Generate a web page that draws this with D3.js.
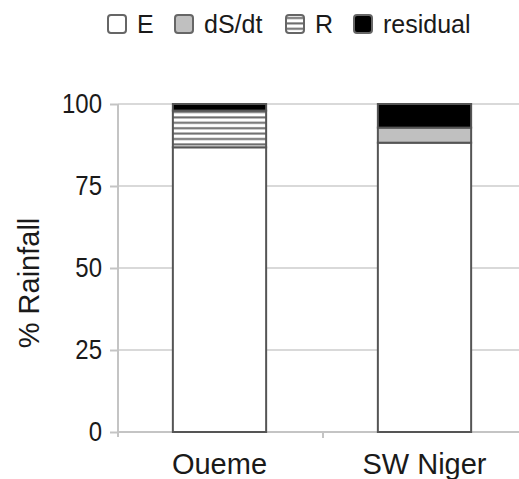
<!DOCTYPE html>
<html>
<head>
<meta charset="utf-8">
<script src="https://cdn.jsdelivr.net/npm/d3@7"></script>
<style>
  body { margin: 0; background: #fff; }
  svg { font-family: "Liberation Sans", Arial, sans-serif; }
</style>
</head>
<body>
<svg id="chart"></svg>
<script>
const sites = ["Oueme", "SW Niger"];
const E = [86.8, 88.2];
const dSdt = [0, 4.6];
const R = [11.2, 0];
const residual = [2.0, 7.2];
const yTicks = [0, 25, 50, 75, 100];

const width = 519;
const height = 479;
const margin = { top: 104, right: -9, bottom: 47, left: 118 };

const svg = d3.select("#chart")
  .attr("width", width)
  .attr("height", height);

// hatch pattern for R
const defs = svg.append("defs");
const hatch = defs.append("pattern")
  .attr("id", "hatch")
  .attr("patternUnits", "userSpaceOnUse")
  .attr("width", 8)
  .attr("height", 5.4);
hatch.append("rect").attr("width", 8).attr("height", 5.4).attr("fill", "#fff");
hatch.append("rect").attr("y", 3).attr("width", 8).attr("height", 2).attr("fill", "#6a6a6a");

const x = d3.scaleBand()
  .domain(sites)
  .range([margin.left, width - margin.right]);

const y = d3.scaleLinear()
  .domain([0, 100])
  .range([height - margin.bottom, margin.top]);

// gridlines
svg.append("g")
  .selectAll("line")
  .data(yTicks.filter(d => d > 0))
  .join("line")
  .attr("x1", margin.left)
  .attr("x2", width)
  .attr("y1", d => y(d))
  .attr("y2", d => y(d))
  .attr("stroke", "#d9d9d9")
  .attr("stroke-width", 2);

// y axis
const yAxis = svg.append("g")
  .attr("transform", `translate(${margin.left},0)`)
  .call(d3.axisLeft(y).tickValues(yTicks).tickSize(8).tickPadding(8));
yAxis.select(".domain").remove();
yAxis.append("line")
  .attr("y1", y(100)).attr("y2", y(0) + 5)
  .attr("stroke", "#c4c4c4").attr("stroke-width", 2);
yAxis.selectAll(".tick line").attr("stroke", "#c4c4c4").attr("stroke-width", 2);
yAxis.selectAll(".tick text")
  .attr("fill", "#1a1a1a")
  .attr("transform", "scale(1,1.15)")
  .style("font-size", "24px");

// x axis
const xAxis = svg.append("g")
  .attr("transform", `translate(0,${y(0)})`);
xAxis.append("line")
  .attr("x1", margin.left).attr("x2", width)
  .attr("stroke", "#c4c4c4").attr("stroke-width", 2);
xAxis.selectAll(".sep")
  .data(sites.slice(1))
  .join("line")
  .attr("x1", d => x(d)).attr("x2", d => x(d))
  .attr("y1", 0).attr("y2", 6)
  .attr("stroke", "#c4c4c4").attr("stroke-width", 2);
xAxis.selectAll(".cat")
  .data(sites)
  .join("text")
  .attr("x", d => x(d) + x.bandwidth() / 2 - 1)
  .attr("y", 42)
  .attr("text-anchor", "middle")
  .attr("fill", "#1a1a1a")
  .style("font-size", "29px")
  .text(d => d);

// stacked bars
const series = [
  { key: "E", values: E, fill: "#fff" },
  { key: "dS/dt", values: dSdt, fill: "#c0c0c0" },
  { key: "R", values: R, fill: "url(#hatch)" },
  { key: "residual", values: residual, fill: "#000" }
];
const barW = x.bandwidth() * 0.455;

sites.forEach((site, i) => {
  let base = 0;
  series.forEach(s => {
    const v = s.values[i];
    if (v > 0) {
      svg.append("rect")
        .attr("x", x(site) + (x.bandwidth() - barW) / 2 - 1)
        .attr("width", barW)
        .attr("y", y(base + v))
        .attr("height", y(base) - y(base + v))
        .attr("fill", s.fill)
        .attr("stroke", "#555")
        .attr("stroke-width", 2);
    }
    base += v;
  });
});

// y title
svg.append("text")
  .attr("transform", `translate(39,283) rotate(-90)`)
  .attr("text-anchor", "middle")
  .attr("fill", "#1a1a1a")
  .style("font-size", "29px")
  .text("% Rainfall");

// legend
const legendX = [107, 174, 285, 353];
const legend = svg.append("g");
series.forEach((s, i) => {
  const g = legend.append("g").attr("transform", `translate(${legendX[i]},14)`);
  g.append("rect")
    .attr("x", 1).attr("y", 1)
    .attr("width", 18).attr("height", 18)
    .attr("rx", 3)
    .attr("fill", s.fill)
    .attr("stroke", "#666")
    .attr("stroke-width", 2);
  g.append("text")
    .attr("x", 30)
    .attr("y", 19)
    .attr("fill", "#1a1a1a")
    .style("font-size", "25px")
    .text(s.key);
});
</script>
</body>
</html>
